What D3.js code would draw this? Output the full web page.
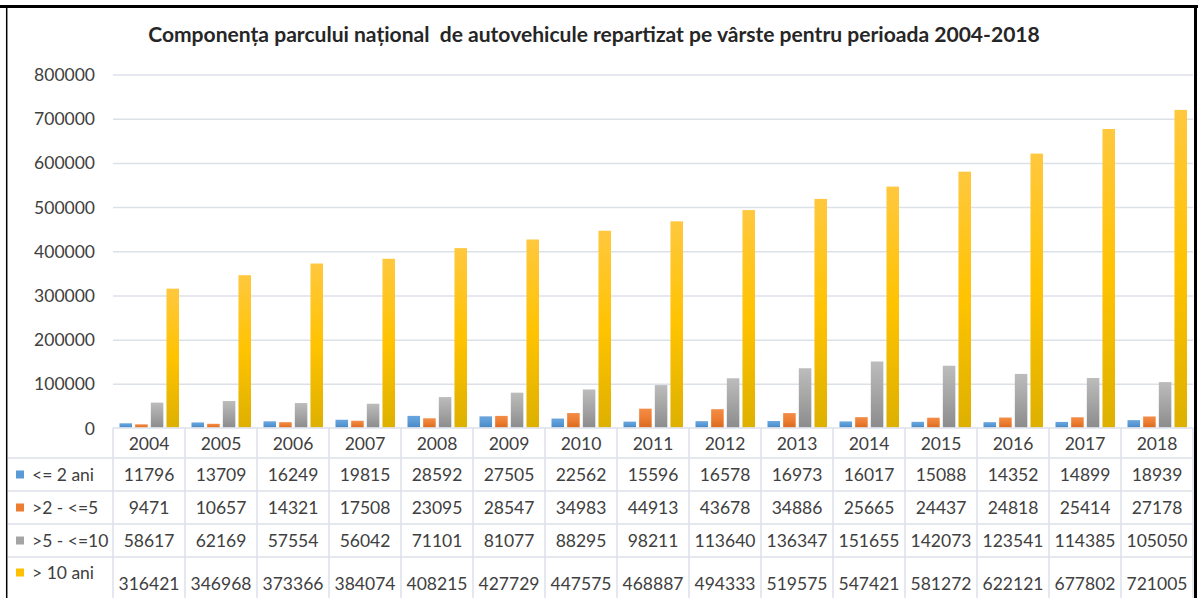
<!DOCTYPE html>
<html><head><meta charset="utf-8">
<script src="https://cdn.jsdelivr.net/npm/d3@7"></script>
<style>body{margin:0;background:#fff} svg{display:block}</style>
</head><body><svg id="c" width="1198" height="598"></svg>
<script>
const title = "Componența parcului național  de autovehicule repartizat pe vârste pentru perioada 2004-2018";
const years = [2004,2005,2006,2007,2008,2009,2010,2011,2012,2013,2014,2015,2016,2017,2018];
const seriesNames = ["<= 2 ani", ">2 - <=5", ">5 - <=10", "> 10 ani"];
const s1 = [11796,13709,16249,19815,28592,27505,22562,15596,16578,16973,16017,15088,14352,14899,18939];
const s2 = [9471,10657,14321,17508,23095,28547,34983,44913,43678,34886,25665,24437,24818,25414,27178];
const s3 = [58617,62169,57554,56042,71101,81077,88295,98211,113640,136347,151655,142073,123541,114385,105050];
const s4 = [316421,346968,373366,384074,408215,427729,447575,468887,494333,519575,547421,581272,622121,677802,721005];
const yTicks = [0,100000,200000,300000,400000,500000,600000,700000,800000];

const seriesData = [s1, s2, s3, s4];
const colors = ["#5b9bd5", "#ed7d31", "#a5a5a5", "#ffc000"];
const grads = [
  ["#6aa6de", "#5b9bd5", "#4a88c4"],
  ["#f38d48", "#ed7d31", "#d86b20"],
  ["#bcbcbc", "#a5a5a5", "#8c8c8c"],
  ["#ffc83e", "#ffc300", "#ddb000"]
];

const svg = d3.select("#c");
const font = "Lato, 'Open Sans', sans-serif";
const textCol = "#404040";
const gridCol = "#dce1e8";

const defs = svg.append("defs");
grads.forEach((g, i) => {
  const lg = defs.append("linearGradient").attr("id", "g" + i)
    .attr("x1", 0).attr("y1", 0).attr("x2", 0).attr("y2", 1);
  lg.append("stop").attr("offset", "0%").attr("stop-color", g[0]);
  lg.append("stop").attr("offset", "50%").attr("stop-color", g[1]);
  lg.append("stop").attr("offset", "100%").attr("stop-color", g[2]);
});

const plotLeft = 113, plotRight = 1193, plotTop = 75, zeroY = 428.5;
const x = d3.scaleBand().domain(years).range([plotLeft, plotRight]).padding(0);
const xs = d3.scaleBand().domain(d3.range(4)).range([6.5, 66]).paddingInner(0.2).paddingOuter(0);
const y = d3.scaleLinear().domain([0, 800000]).range([zeroY, plotTop]);

// gridlines
const yAxis = d3.axisLeft(y).tickValues(yTicks).tickSize(0).tickPadding(18).tickFormat(d3.format("d"));
const ga = svg.append("g").attr("transform", `translate(${plotLeft},0)`).call(yAxis);
ga.select(".domain").remove();
ga.selectAll("text").attr("font-family", font).attr("font-size", 17.5).attr("fill", textCol);
svg.append("g").selectAll("line").data(yTicks.filter(d => d > 0)).join("line")
  .attr("x1", plotLeft).attr("x2", plotRight)
  .attr("y1", d => y(d)).attr("y2", d => y(d))
  .attr("stroke", gridCol).attr("stroke-width", 1.5);

// bars
const bars = svg.append("g");
seriesData.forEach((arr, si) => {
  bars.append("g").selectAll("rect").data(arr).join("rect")
    .attr("x", (d, i) => x(years[i]) + xs(si))
    .attr("width", xs.bandwidth())
    .attr("y", d => y(d))
    .attr("height", d => Math.max(0, zeroY - 1 - y(d)))
    .attr("fill", `url(#g${si})`);
});

// table
const rowTops = [428, 458, 491, 524, 557];
const tableBottom = 610;
const tl = svg.append("g").attr("stroke", gridCol).attr("stroke-width", 1.5);
tl.append("line").attr("x1", plotLeft).attr("x2", plotRight).attr("y1", 428).attr("y2", 428);
rowTops.slice(1).forEach(r => tl.append("line").attr("x1", 8).attr("x2", plotRight).attr("y1", r).attr("y2", r));
years.forEach(yr => tl.append("line").attr("x1", x(yr)).attr("x2", x(yr)).attr("y1", 428).attr("y2", tableBottom));
tl.append("line").attr("x1", plotRight).attr("x2", plotRight).attr("y1", 428).attr("y2", tableBottom);

const tt = svg.append("g").attr("font-family", font).attr("font-size", 17.5).attr("fill", textCol);
tt.selectAll("text.yr").data(years).join("text").attr("class", "yr")
  .attr("x", d => x(d) + x.bandwidth() / 2).attr("y", 443)
  .attr("text-anchor", "middle").attr("dominant-baseline", "central").text(d => d);

const rowCenters = [474.5, 507.5, 540.5, 583];
const labelCenters = [474.5, 507.5, 540.5, 572.5];
seriesData.forEach((arr, si) => {
  tt.append("g").selectAll("text").data(arr).join("text")
    .attr("x", (d, i) => x(years[i]) + x.bandwidth() / 2).attr("y", rowCenters[si])
    .attr("text-anchor", "middle").attr("dominant-baseline", "central").text(d => d);
  svg.append("rect").attr("x", 16).attr("y", labelCenters[si] - 4).attr("width", 8).attr("height", 8)
    .attr("fill", colors[si]);
  tt.append("text").attr("x", 32).attr("y", labelCenters[si]).attr("dominant-baseline", "central")
    .text(seriesNames[si]);
});

// title
const t = svg.append("text").attr("x", 594).attr("y", 33).attr("text-anchor", "middle")
  .attr("dominant-baseline", "central").attr("font-family", font).attr("font-weight", "bold")
  .attr("font-size", 17).attr("fill", "#262626").style("white-space", "pre").text(title);
const tw = t.node().getComputedTextLength();
t.attr("font-size", 17 * 892 / tw);

// frame
svg.append("line").attr("x1", 0).attr("x2", 1198).attr("y1", 6.5).attr("y2", 6.5).attr("stroke", "#000").attr("stroke-width", 3);
svg.append("line").attr("x1", 6.7).attr("x2", 6.7).attr("y1", 5).attr("y2", 598).attr("stroke", "#000").attr("stroke-width", 1.5);
svg.append("line").attr("x1", 1195.5).attr("x2", 1195.5).attr("y1", 5).attr("y2", 598).attr("stroke", "#000").attr("stroke-width", 3);
</script></body></html>
